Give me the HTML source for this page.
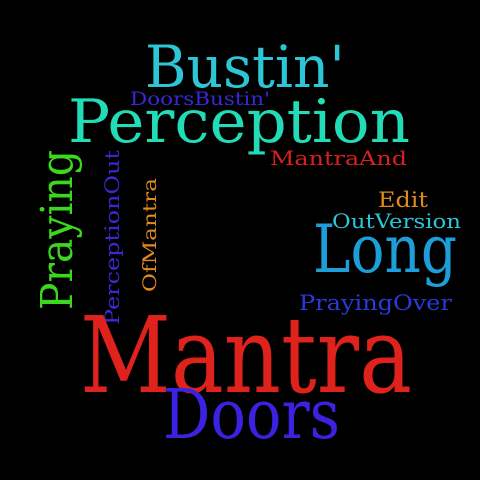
<!DOCTYPE html>
<html><head><meta charset="utf-8"><style>
html,body{margin:0;padding:0;background:#000;}
svg{display:block;}
text{font-family:"DejaVu Serif","Liberation Serif",serif;}
</style></head><body>
<svg width="480" height="480" viewBox="0 0 480 480">
<rect width="480" height="480" fill="#000"/>
<text x="145" y="87" font-size="58" fill="#2cc6d6" textLength="200" lengthAdjust="spacingAndGlyphs">Bustin'</text>
<text x="130" y="105" font-size="19" fill="#3a28d6" textLength="140" lengthAdjust="spacingAndGlyphs">DoorsBustin'</text>
<text x="68" y="142" font-size="60" fill="#22dcb8" textLength="342" lengthAdjust="spacingAndGlyphs">Perception</text>
<text x="270" y="165" font-size="20" fill="#d8201c" textLength="137" lengthAdjust="spacingAndGlyphs">MantraAnd</text>
<text transform="translate(72,310) rotate(-90)" font-size="44" fill="#3cd81e" textLength="160" lengthAdjust="spacingAndGlyphs">Praying</text>
<text transform="translate(119,325) rotate(-90)" font-size="20" fill="#3a28d6" textLength="175" lengthAdjust="spacingAndGlyphs">PerceptionOut</text>
<text transform="translate(156,292) rotate(-90)" font-size="19" fill="#e08a1e" textLength="114" lengthAdjust="spacingAndGlyphs">OfMantra</text>
<text x="378" y="207" font-size="21" fill="#e08a1e" textLength="50" lengthAdjust="spacingAndGlyphs">Edit</text>
<text x="332" y="228" font-size="20" fill="#2cc6d6" textLength="129" lengthAdjust="spacingAndGlyphs">OutVersion</text>
<text x="313" y="272" font-size="66" fill="#1e9ed8" textLength="144" lengthAdjust="spacingAndGlyphs">Long</text>
<text x="299" y="310" font-size="21" fill="#2a3ad8" textLength="153" lengthAdjust="spacingAndGlyphs">PrayingOver</text>
<text x="80" y="392" font-size="106" fill="#e0221c" textLength="332" lengthAdjust="spacingAndGlyphs">Mantra</text>
<text x="163" y="438" font-size="68" fill="#3a22e0" textLength="177" lengthAdjust="spacingAndGlyphs">Doors</text>
</svg>
</body></html>
